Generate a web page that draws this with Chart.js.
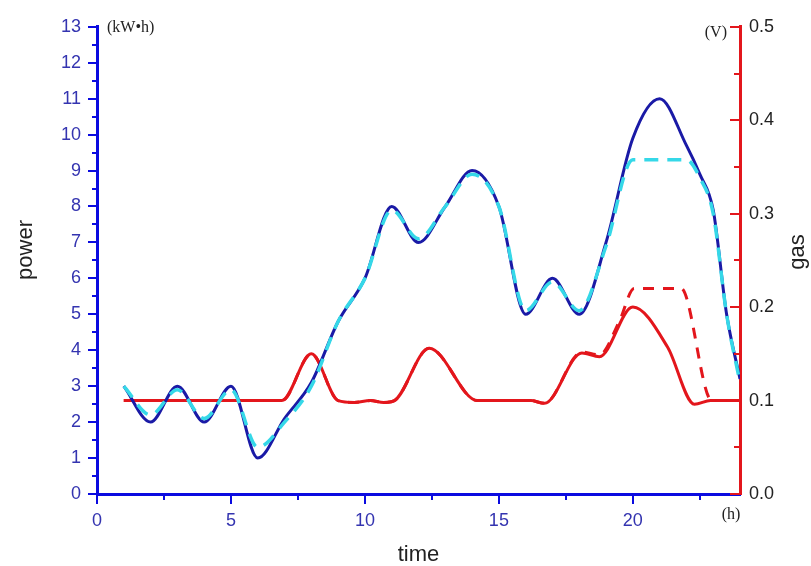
<!DOCTYPE html>
<html>
<head>
<meta charset="utf-8">
<script src="https://cdn.jsdelivr.net/npm/chart.js@4"></script>
<style>
  html, body { margin: 0; padding: 0; background: #fff; }
  #wrap { width: 811px; height: 566px; }
</style>
</head>
<body>
<div id="wrap"><canvas id="chart"></canvas></div>
<script>
// power (kW·h), left axis
const powerHours  = [1, 2, 3, 4, 5, 6, 7, 8, 9, 10, 11, 12, 13, 14, 15, 16, 17, 18, 19, 20, 21, 22, 22.5, 23, 23.5, 24];
const powerSolid  = [3, 2, 3, 2, 3, 1, 2.1, 3.1, 4.8, 6, 8, 7, 8, 9, 8, 5, 6, 5, 7, 9.9, 11, 9.7, 8.9, 7.9, 5.0, 3.2];
const powerDashed = [3, 2.2, 2.9, 2.1, 2.9, 1.3, 2.0, 3.0, 4.8, 6, 7.9, 7.1, 8, 8.9, 8, 5.1, 5.9, 5.1, 6.9, 9.3, 9.3, 9.3, 8.8, 7.8, 5.0, 3.1];

// gas (V), right axis
const gasSolidHours  = [1, 6.9, 8, 9.0, 9.6, 10.2, 10.7, 11.1, 12.4, 14.2, 16.2, 16.7, 18.1, 18.75, 20, 21.3, 22.3, 22.9, 24];
const gasSolid       = [0.1, 0.1, 0.15, 0.1, 0.098, 0.1, 0.098, 0.1, 0.156, 0.1, 0.1, 0.097, 0.151, 0.147, 0.2, 0.157, 0.096, 0.1, 0.1];
const gasDashedHours = [1, 6.9, 8, 9.0, 9.6, 10.2, 10.7, 11.1, 12.4, 14.2, 16.2, 16.7, 18.1, 18.75, 19.5, 20.05, 21.8, 22.95, 24];
const gasDashed      = [0.1, 0.1, 0.15, 0.1, 0.098, 0.1, 0.098, 0.1, 0.156, 0.1, 0.1, 0.097, 0.152, 0.149, 0.185, 0.22, 0.22, 0.1, 0.1];

// tick labels
const timeTicks  = [0, 5, 10, 15, 20];
const powerTicks = [0, 1, 2, 3, 4, 5, 6, 7, 8, 9, 10, 11, 12, 13];
const gasTicks   = [0, 0.1, 0.2, 0.3, 0.4, 0.5];

const BLUE_AXIS = '#0b0be0';
const BLUE_LINE = '#1a1aa6';
const CYAN = '#35d8e8';
const RED = '#e3161c';
const TICK_TEXT = '#3434b0';
const SANS = '"Liberation Sans", Arial, sans-serif';
const SERIF = '"Liberation Serif", "Times New Roman", serif';

const pts = (xs, ys) => xs.map((x, i) => ({x, y: ys[i]}));

const decorations = {
  id: 'decorations',
  afterDraw(chart) {
    const {ctx, scales: {x, y, y1}} = chart;
    ctx.save();
    ctx.lineWidth = 2;

    // left axis ticks (outward)
    ctx.strokeStyle = BLUE_AXIS;
    for (let v = 0; v <= 13; v += 0.5) {
      const py = Math.round(y.getPixelForValue(v));
      const len = v % 1 === 0 ? 9 : 5;
      ctx.beginPath(); ctx.moveTo(y.right - len, py); ctx.lineTo(y.right, py); ctx.stroke();
    }
    // bottom axis ticks (outward)
    for (let v = 0; v <= 22.5; v += 2.5) {
      const px = Math.round(x.getPixelForValue(v));
      const len = v % 5 === 0 ? 10 : 6;
      ctx.beginPath(); ctx.moveTo(px, x.top); ctx.lineTo(px, x.top + len); ctx.stroke();
    }
    // right axis ticks (inward)
    ctx.strokeStyle = RED;
    for (let i = 0; i <= 10; i++) {
      const py = Math.round(y1.getPixelForValue(i * 0.05));
      const len = i % 2 === 0 ? 10 : 6;
      ctx.beginPath(); ctx.moveTo(y1.left - len, py); ctx.lineTo(y1.left, py); ctx.stroke();
    }

    // axis titles
    ctx.fillStyle = '#222';
    ctx.font = '22px ' + SANS;
    ctx.textAlign = 'center';
    ctx.textBaseline = 'middle';
    ctx.save(); ctx.translate(26, 250); ctx.rotate(-Math.PI / 2); ctx.fillText('power', 0, 0); ctx.restore();
    ctx.save(); ctx.translate(798, 252); ctx.rotate(-Math.PI / 2); ctx.fillText('gas', 0, 0); ctx.restore();
    ctx.fillText('time', (x.left + x.right) / 2, 555);

    // units
    ctx.font = '16px ' + SERIF;
    ctx.textAlign = 'left';
    ctx.fillText('(kW\u2022h)', y.right + 10, y.top + 1);
    ctx.textAlign = 'right';
    ctx.fillText('(V)', y1.left - 13, y1.top + 6);
    ctx.textAlign = 'center';
    ctx.fillText('(h)', x.right - 9, x.top + 21);
    ctx.restore();
  }
};

new Chart(document.getElementById('chart'), {
  type: 'line',
  data: {
    datasets: [
      {
        label: 'power forecast',
        data: pts(powerHours, powerDashed),
        yAxisID: 'y',
        borderColor: CYAN,
        borderWidth: 3.5,
        borderDash: [14, 9],
        cubicInterpolationMode: 'monotone',
        pointRadius: 0,
      },
      {
        label: 'power',
        data: pts(powerHours, powerSolid),
        yAxisID: 'y',
        borderColor: BLUE_LINE,
        borderWidth: 3,
        cubicInterpolationMode: 'monotone',
        pointRadius: 0,
      },
      {
        label: 'gas forecast',
        data: pts(gasDashedHours, gasDashed),
        yAxisID: 'y1',
        borderColor: RED,
        borderWidth: 3,
        borderDash: [11, 9],
        cubicInterpolationMode: 'monotone',
        pointRadius: 0,
      },
      {
        label: 'gas',
        data: pts(gasSolidHours, gasSolid),
        yAxisID: 'y1',
        borderColor: RED,
        borderWidth: 3,
        cubicInterpolationMode: 'monotone',
        pointRadius: 0,
      },
    ]
  },
  options: {
    responsive: true,
    maintainAspectRatio: false,
    animation: false,
    layout: { padding: { top: 25, left: 0, right: 0, bottom: 0 } },
    plugins: { legend: { display: false }, tooltip: { enabled: false } },
    scales: {
      x: {
        type: 'linear',
        min: 0,
        max: 24,
        afterBuildTicks: s => { s.ticks = timeTicks.map(v => ({value: v})); },
        afterFit: s => { s.height = 72; },
        grid: { display: false, drawTicks: false },
        border: { display: true, color: BLUE_AXIS, width: 3 },
        ticks: { color: TICK_TEXT, font: { family: SANS, size: 18 }, padding: 16, maxRotation: 0 },
      },
      y: {
        position: 'left',
        min: 0,
        max: 13,
        afterBuildTicks: s => { s.ticks = powerTicks.map(v => ({value: v})); },
        afterFit: s => { s.width = 97; },
        grid: { display: false, drawTicks: false },
        border: { display: true, color: BLUE_AXIS, width: 3 },
        ticks: { color: TICK_TEXT, font: { family: SANS, size: 18 }, padding: 16 },
      },
      y1: {
        position: 'right',
        min: 0,
        max: 0.5,
        afterBuildTicks: s => { s.ticks = gasTicks.map(v => ({value: v})); },
        afterFit: s => { s.width = 71; },
        grid: { display: false, drawTicks: false },
        border: { display: true, color: RED, width: 3 },
        ticks: { color: '#222', font: { family: SANS, size: 18 }, padding: 9, callback: v => v.toFixed(1) },
      },
    }
  },
  plugins: [decorations]
});
</script>
</body>
</html>
